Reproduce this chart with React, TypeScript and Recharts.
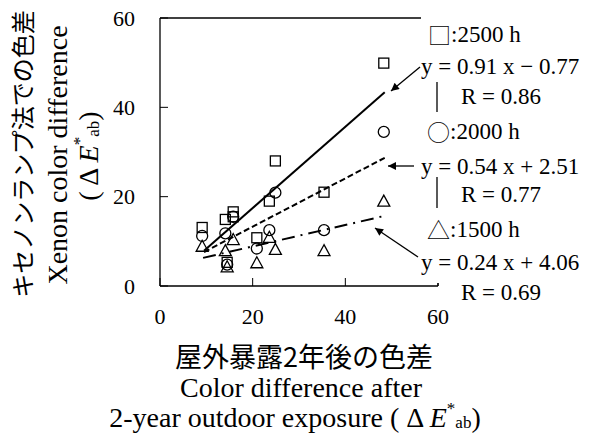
import React from 'react';
import { ScatterChart, Scatter, XAxis, YAxis, ReferenceLine } from 'recharts';

const exposure = [9.1, 14.1, 15.8, 15.8, 14.5, 20.9, 23.6, 24.9, 35.4, 48.3];
const h2500 = [13.1, 14.9, 16.6, 15.5, 5.3, 10.8, 19.0, 28.0, 21.0, 49.9];
const exposure2000 = [9.1, 14.1, 15.8, 14.5, 20.9, 23.6, 24.9, 35.4, 48.3];
const h2000 = [11.2, 11.8, 15.5, 4.8, 8.4, 12.5, 20.9, 12.5, 34.5];
const exposure1500 = [9.1, 14.1, 15.8, 14.5, 20.9, 23.6, 24.9, 35.4, 48.3];
const h1500 = [8.9, 7.9, 10.4, 4.3, 5.2, 10.9, 8.2, 7.9, 19.0];

// regression line end points (x, y)
const fit2500 = [[9.5, 7.9], [48.5, 43.4]];
const fit2000 = [[9.5, 7.6], [48.5, 28.7]];
const fit1500 = [[9.3, 6.3], [48.5, 15.7]];

const xTicks = [0, 20, 40, 60];
const yTicks = [0, 20, 40, 60];

const legendLines = [
  { glyph: '□', text: ':2500 h', x: 428, y: 34 },
  { glyph: '', text: 'y = 0.91 x − 0.77', x: 421, y: 66 },
  { glyph: '', text: 'R = 0.86', x: 461, y: 96 },
  { glyph: '○', text: ':2000 h', x: 427, y: 131 },
  { glyph: '', text: 'y = 0.54 x + 2.51', x: 421, y: 166 },
  { glyph: '', text: 'R = 0.77', x: 461, y: 194 },
  { glyph: '△', text: ':1500 h', x: 427, y: 229 },
  { glyph: '', text: 'y = 0.24 x + 4.06', x: 421, y: 262 },
  { glyph: '', text: 'R = 0.69', x: 461, y: 292 },
];

const serif = '"Liberation Serif", "Noto Sans CJK JP", serif';
const jp = '"Noto Sans CJK JP", sans-serif';

const toPoints = (xs: number[], ys: number[]) => xs.map((x, i) => ({ x, y: ys[i] }));
const seg = (f: number[][]) => f.map(([x, y]) => ({ x, y }));

const Square = (p: any) => (
  <rect x={p.cx - 5} y={p.cy - 5} width={10} height={10} fill="none" stroke="#000" strokeWidth={1.3} />
);
const Ring = (p: any) => <circle cx={p.cx} cy={p.cy} r={5.5} fill="none" stroke="#000" strokeWidth={1.3} />;
const Tri = (p: any) => (
  <polygon
    points={`${p.cx},${p.cy - 6} ${p.cx - 6},${p.cy + 5} ${p.cx + 6},${p.cy + 5}`}
    fill="none"
    stroke="#000"
    strokeWidth={1.3}
  />
);

const tickStyle = { fontSize: 22, fill: '#000', fontFamily: serif };

const DeltaE = () => (
  <>
    <tspan>( Δ </tspan>
    <tspan fontStyle="italic">E</tspan>
    <tspan fontSize={17} dy={-9}>*</tspan>
    <tspan fontSize={17} dy={14}>ab</tspan>
    <tspan dy={-5}>)</tspan>
  </>
);

export default function App() {
  return (
    <div style={{ position: 'absolute', left: 0, top: 0, width: 590, height: 433, background: '#fff' }}>
      <ScatterChart width={590} height={433} margin={{ top: 18, right: 152, bottom: 107, left: 110 }}>
        <XAxis
          type="number"
          dataKey="x"
          domain={[0, 60]}
          ticks={xTicks}
          height={40}
          tickSize={-8}
          tickMargin={30}
          tick={tickStyle}
          stroke="#000"
          axisLine={{ stroke: '#000', strokeWidth: 1.3 }}
        />
        <YAxis
          type="number"
          dataKey="y"
          domain={[0, 60]}
          ticks={yTicks}
          width={50}
          tickSize={-8}
          tickMargin={33}
          tick={tickStyle}
          stroke="#000"
          axisLine={{ stroke: '#000', strokeWidth: 1.3 }}
        />
        <ReferenceLine y={60} stroke="#000" strokeWidth={1.3} />
        <ReferenceLine x={60} stroke="#000" strokeWidth={1.3} />
        <ReferenceLine segment={seg(fit2500)} stroke="#000" strokeWidth={2} />
        <ReferenceLine segment={seg(fit2000)} stroke="#000" strokeWidth={2} strokeDasharray="6 3" />
        <ReferenceLine segment={seg(fit1500)} stroke="#000" strokeWidth={2} strokeDasharray="13 6 2 6" />
        <Scatter data={toPoints(exposure, h2500)} shape={Square} isAnimationActive={false} />
        <Scatter data={toPoints(exposure2000, h2000)} shape={Ring} isAnimationActive={false} />
        <Scatter data={toPoints(exposure1500, h1500)} shape={Tri} isAnimationActive={false} />
      </ScatterChart>

      <svg width={590} height={433} style={{ position: 'absolute', left: 0, top: 0, pointerEvents: 'none' }}>
        <defs>
          <marker id="ah" viewBox="0 0 10 10" refX="10" refY="5" markerWidth="10" markerHeight="8" orient="auto" markerUnits="userSpaceOnUse">
            <path d="M0,0 L10,5 L0,10 z" fill="#000" />
          </marker>
        </defs>
        <rect x={421} y={0} width={169} height={283} fill="#fff" />
        {legendLines.map((l) => (
          <text key={l.text} x={l.x} y={l.y} dominantBaseline="central" fontSize={23} fontFamily={serif} fill="#000">
            {l.glyph ? (
              <tspan fontFamily={jp} fontWeight={300}>
                {l.glyph}
              </tspan>
            ) : null}
            <tspan>{l.text}</tspan>
          </text>
        ))}
        <line x1={420} y1={67} x2={391} y2={91} stroke="#000" strokeWidth={1.3} markerEnd="url(#ah)" />
        <line x1={414} y1={166} x2={388} y2={166} stroke="#000" strokeWidth={1.3} markerEnd="url(#ah)" />
        <line x1={418} y1={257} x2={375} y2={228} stroke="#000" strokeWidth={1.3} markerEnd="url(#ah)" />
        <line x1={437} y1={82} x2={437} y2={112} stroke="#000" strokeWidth={1.3} />
        <line x1={437} y1={177} x2={437} y2={208} stroke="#000" strokeWidth={1.3} />

        {/* y axis title */}
        <g transform="rotate(-90 21 154)">
          <text x={21} y={154} textAnchor="middle" dominantBaseline="central" fontSize={24} fontFamily={jp}>
            キセノンランプ法での色差
          </text>
        </g>
        <g transform="rotate(-90 57 155)">
          <text x={57} y={155} textAnchor="middle" dominantBaseline="central" fontSize={28} fontFamily={serif}>
            Xenon color difference
          </text>
        </g>
        <g transform="rotate(-90 88 156)">
          <text x={88} y={156} textAnchor="middle" dominantBaseline="central" fontSize={28} fontFamily={serif}>
            <DeltaE />
          </text>
        </g>

        {/* x axis title */}
        <text x={304} y={355} textAnchor="middle" dominantBaseline="central" fontSize={27} fontFamily={jp}>
          屋外暴露2年後の色差
        </text>
        <text x={301} y={387} textAnchor="middle" dominantBaseline="central" fontSize={28} fontFamily={serif}>
          Color difference after
        </text>
        <text x={295} y={417} textAnchor="middle" dominantBaseline="central" fontSize={28} fontFamily={serif}>
          2-year outdoor exposure <DeltaE />
        </text>
      </svg>
    </div>
  );
}
